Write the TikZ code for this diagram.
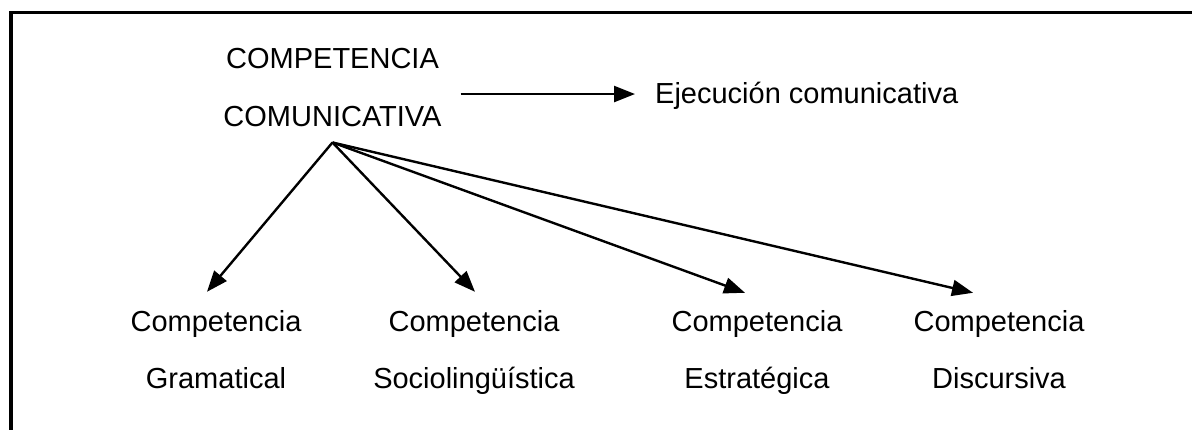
\documentclass[tikz,border=0pt]{standalone}
\usepackage{fontspec}
\setmainfont{Liberation Sans}
\usetikzlibrary{arrows.meta}
\begin{document}
\begin{tikzpicture}[x=1pt,y=1pt,
  lbl/.style={inner sep=0pt, align=center, font=\fontsize{29}{57}\selectfont},
  arr/.style={line width=2.4pt, -{Triangle[length=21pt,width=16pt]}},
  frame/.style={line width=3.4pt}]
\useasboundingbox (0,0) rectangle (1192,-429);
\draw[frame] (11,-440) -- (11,-12.5) -- (1200,-12.5);
% top node
\node[lbl, font=\fontsize{29}{58}\selectfont, anchor=base] (cc) at (332.5,-126) {COMPETENCIA\\COMUNICATIVA};
\node[lbl, anchor=base west, inner xsep=20pt] (ej) at (635,-103) {Ejecución comunicativa};
\coordinate (s) at ([xshift=19pt,yshift=-7pt]cc.east);
\draw[arr] (s) -- (s -| ej.west);
% bottom nodes
\node[lbl, anchor=base] (g) at (216,-388) {Competencia\\Gramatical};
\node[lbl, anchor=base] (so) at (474,-388) {Competencia\\Sociolingüística};
\node[lbl, anchor=base] (es) at (757,-388) {Competencia\\Estratégica};
\node[lbl, anchor=base] (di) at (999,-388) {Competencia\\Discursiva};
\coordinate (o) at ([yshift=-16pt]cc.south);
\draw[arr] (o) -- ([xshift=-9pt,yshift=18pt]g.north);
\draw[arr] (o) -- ([xshift=1pt,yshift=18pt]so.north);
\draw[arr] (o) -- ([xshift=-12pt,yshift=17pt]es.north);
\draw[arr] (o) -- ([xshift=-26pt,yshift=17pt]di.north);
\end{tikzpicture}
\end{document}
